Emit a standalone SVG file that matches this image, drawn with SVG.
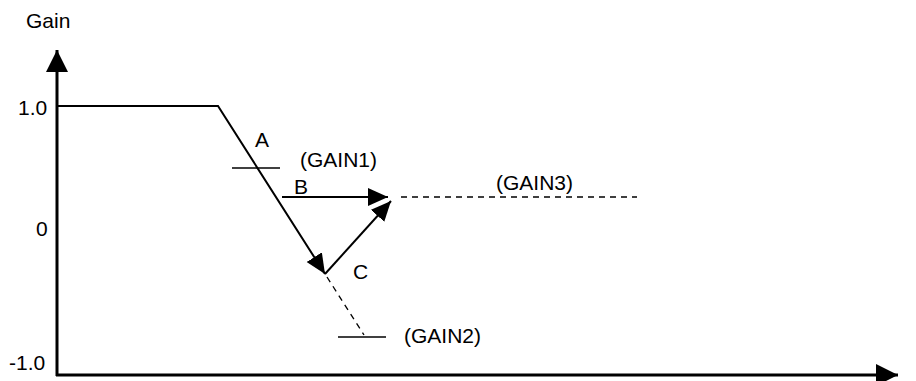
<svg xmlns="http://www.w3.org/2000/svg" width="916" height="381" viewBox="0 0 916 381">
<defs>
<style>
text{font-family:"Liberation Sans",Arial,sans-serif;font-size:21px;fill:#000}
.ln{stroke:#000;stroke-width:2;fill:none}
.th{stroke:#000;stroke-width:3;fill:none}
.thin{stroke:#000;stroke-width:1.3;fill:none}
.dash{stroke:#000;stroke-width:1.3;fill:none;stroke-dasharray:6,5}
</style>
<marker id="big" markerUnits="userSpaceOnUse" markerWidth="24" markerHeight="24" refX="22" refY="11" orient="auto"><path d="M0,0 L22,11 L0,22 Z" fill="#000"/></marker>
<marker id="ah" markerUnits="userSpaceOnUse" markerWidth="22" markerHeight="22" refX="20" refY="9" orient="auto"><path d="M0,0 L20,9 L0,18 Z" fill="#000"/></marker>
</defs>
<g id="axes">
<line class="th" x1="57" y1="376" x2="57" y2="50" marker-end="url(#big)"/>
<line class="th" x1="56" y1="375" x2="898" y2="375" marker-end="url(#big)"/>
</g>
<g id="labels">
<text x="26" y="28">Gain</text>
<text x="18" y="115">1.0</text>
<text x="36" y="236">0</text>
<text x="9" y="370">-1.0</text>
<text x="255" y="147">A</text>
<text x="300" y="167">(GAIN1)</text>
<text x="294" y="194">B</text>
<text x="496" y="190">(GAIN3)</text>
<text x="353" y="279">C</text>
<text x="404" y="343">(GAIN2)</text>
</g>
<g id="connectors">
<polyline class="ln" points="57,106 218,106 325,274" marker-end="url(#ah)"/>
<line class="thin" x1="232" y1="168" x2="280" y2="168"/>
<line class="ln" x1="282" y1="197" x2="388" y2="197" marker-end="url(#ah)"/>
<line class="dash" x1="401" y1="197" x2="637" y2="197"/>
<line class="ln" x1="325" y1="274" x2="391" y2="201" marker-end="url(#ah)"/>
<line class="dash" x1="327" y1="277" x2="364" y2="335"/>
<line class="thin" x1="338" y1="337" x2="386" y2="337"/>
</g>
</svg>
